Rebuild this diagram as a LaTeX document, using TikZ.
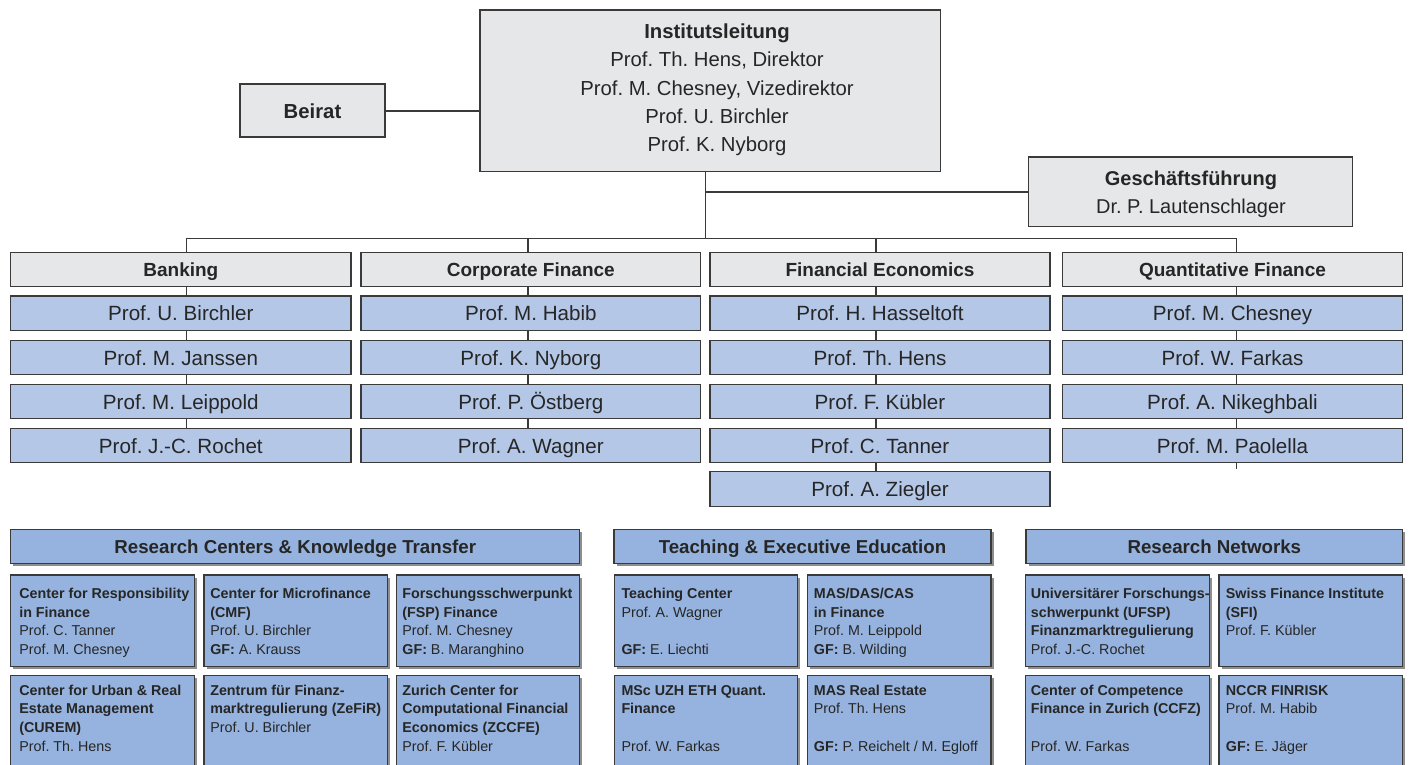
\documentclass[tikz,border=0pt]{standalone}
\usepackage{fontspec}
\setmainfont{Liberation Sans}
\frenchspacing
\usetikzlibrary{shadows,backgrounds}
\definecolor{greyC}{HTML}{E6E7E8}
\definecolor{profC}{HTML}{B4C7E7}
\definecolor{secC}{HTML}{95B3DE}
\definecolor{lineC}{HTML}{3A3A3A}
\definecolor{txtC}{HTML}{262626}
\definecolor{shadC}{HTML}{8E8E8E}
\begin{document}
\begin{tikzpicture}[x=1pt,y=-1pt,
 conn/.style={draw=lineC, line width=1.3pt},
 connthick/.style={draw=lineC, line width=2pt},
 boxbase/.style={rectangle, draw=lineC, line width=1.2pt, inner sep=0pt, text=txtC},
 greybox/.style={boxbase, fill=greyC},
 colhead/.style={greybox, minimum height=34.4pt, font=\bfseries\fontsize{19}{23}\selectfont, text height=13pt, text depth=0pt},
 profbox/.style={boxbase, fill=profC, minimum height=34.6pt, font=\fontsize{20.6}{24}\selectfont, text height=15pt, text depth=0pt},
 shad/.style={drop shadow={shadow xshift=2.5pt, shadow yshift=-2.5pt, fill=shadC, opacity=1}},
 sechead/.style={boxbase, fill=secC, shad, minimum height=34pt, font=\bfseries\fontsize{18.7}{22}\selectfont, text height=13.5pt, text depth=0pt},
 subbox/.style={boxbase, fill=secC, shad, minimum width=183.7pt},
 row1/.style={subbox, minimum height=91.7pt},
 row2/.style={subbox, minimum height=124.3pt},
 subtext/.style={anchor=north west, align=left, inner sep=0pt, text=txtC, font=\fontsize{14.3}{18.6}\selectfont},
 toptext/.style={anchor=north, align=center, inner sep=0pt, text=txtC, font=\fontsize{20.3}{28.35}\selectfont},
]
\useasboundingbox (0,0) rectangle (1409,764);
\clip (0,0) rectangle (1409,764);

% ---- top level
\node[greybox, minimum width=460.5pt, minimum height=161.7pt] (inst) at (710.25,90.85) {};
\node[toptext] (instT) at (717,23.3) {\rule{0pt}{15pt}\textbf{Institutsleitung}\\Prof. Th. Hens, Direktor\\Prof. M. Chesney, Vizedirektor\\Prof. U. Birchler\\Prof. K. Nyborg};
\node[greybox, minimum width=145pt, minimum height=53pt, font=\bfseries\fontsize{20.3}{24}\selectfont, text height=15pt, text depth=0pt] (beirat) at (312.5,110.5) {Beirat};
\node[greybox, minimum width=323.6pt, minimum height=69.3pt] (gf) at (1190.5,191.65) {};
\node[toptext, font=\fontsize{20}{28}\selectfont] (gfT) at (1191,170) {\rule{0pt}{15pt}\textbf{Geschäftsführung}\\Dr. P. Lautenschlager};

% ---- columns
\node[colhead, minimum width=340.3pt] (hA) at (180.85,269.5) {Banking};
\node[profbox, minimum width=340.3pt] (a1) at (180.85,313.35) {Prof. U. Birchler};
\node[profbox, minimum width=340.3pt] (a2) at (180.85,357.5) {Prof. M. Janssen};
\node[profbox, minimum width=340.3pt] (a3) at (180.85,401.5) {Prof. M. Leippold};
\node[profbox, minimum width=340.3pt] (a4) at (180.85,445.5) {Prof. J.-C. Rochet};

\node[colhead, minimum width=339.7pt] (hB) at (530.85,269.5) {Corporate Finance};
\node[profbox, minimum width=339.7pt] (b1) at (530.85,313.35) {Prof. M. Habib};
\node[profbox, minimum width=339.7pt] (b2) at (530.85,357.5) {Prof. K. Nyborg};
\node[profbox, minimum width=339.7pt] (b3) at (530.85,401.5) {Prof. P. Östberg};
\node[profbox, minimum width=339.7pt] (b4) at (530.85,445.5) {Prof. A. Wagner};

\node[colhead, minimum width=340pt] (hC) at (880,269.5) {Financial Economics};
\node[profbox, minimum width=340pt] (c1) at (880,313.35) {Prof. H. Hasseltoft};
\node[profbox, minimum width=340pt] (c2) at (880,357.5) {Prof. Th. Hens};
\node[profbox, minimum width=340pt] (c3) at (880,401.5) {Prof. F. Kübler};
\node[profbox, minimum width=340pt] (c4) at (880,445.5) {Prof. C. Tanner};
\node[profbox, minimum width=340pt] (c5) at (880,488.85) {Prof. A. Ziegler};

\node[colhead, minimum width=340.4pt] (hD) at (1232.5,269.5) {Quantitative Finance};
\node[profbox, minimum width=340.4pt] (d1) at (1232.5,313.35) {Prof. M. Chesney};
\node[profbox, minimum width=340.4pt] (d2) at (1232.5,357.5) {Prof. W. Farkas};
\node[profbox, minimum width=340.4pt] (d3) at (1232.5,401.5) {Prof. A. Nikeghbali};
\node[profbox, minimum width=340.4pt] (d4) at (1232.5,445.5) {Prof. M. Paolella};

% ---- connectors (behind boxes)
\coordinate (trunk) at (705.4,238.3);
\coordinate (dA) at (186.7,238.3);
\coordinate (dB) at (528.1,238.3);
\coordinate (dC) at (876,238.3);
\coordinate (dD) at (1236.7,238.3);
\coordinate (stubD) at (1236.7,469.3);
\begin{pgfonlayer}{background}
\draw[connthick] (beirat.east) -- (beirat.east -| inst.west);
\draw[conn] (trunk |- inst.south) -- (trunk);
\draw[connthick] (trunk |- gf.west) -- (gf.west);
\draw[conn] (dA) -- (dD);
\draw[conn] (dA) -- (dA |- a4.south);
\draw[conn] (dB) -- (dB |- b4.south);
\draw[conn] (dC) -- (dC |- c5.south);
\draw[conn] (dD) -- (stubD);
\end{pgfonlayer}

% ---- section headers
\node[sechead, minimum width=569.1pt] (s1) at (295.25,546.3) {Research Centers \& Knowledge Transfer};
\node[sechead, minimum width=377pt] (s2) at (802.5,546.3) {Teaching \& Executive Education};
\node[sechead, minimum width=376.7pt] (s3) at (1214.35,546.3) {Research Networks};

% ---- sub boxes row 1
\node[row1] (rc1) at (102.55,620.85) {};
\node[row1] (rc2) at (295.85,620.85) {};
\node[row1] (rc3) at (487.95,620.85) {};
\node[row1] (te1) at (706,620.85) {};
\node[row1] (te2) at (899.15,620.85) {};
\node[row1] (rn1) at (1117.65,620.85) {};
\node[row1] (rn2) at (1310.85,620.85) {};
% ---- sub boxes row 2
\node[row2] (rc4) at (102.55,737.85) {};
\node[row2] (rc5) at (295.85,737.85) {};
\node[row2] (rc6) at (487.95,737.85) {};
\node[row2] (te3) at (706,737.85) {};
\node[row2] (te4) at (899.15,737.85) {};
\node[row2] (rn3) at (1117.65,737.85) {};
\node[row2] (rn4) at (1310.85,737.85) {};

% ---- texts row 1
\node[subtext] (rc1T) at (19.1,587.8) {\rule{0pt}{10.5pt}\textbf{Center for Responsibility}\\\textbf{in Finance}\\Prof. C. Tanner\\Prof. M. Chesney};
\node[subtext] (rc2T) at (210.1,587.8) {\rule{0pt}{10.5pt}\textbf{Center for Microfinance}\\\textbf{(CMF)}\\Prof. U. Birchler\\\textbf{GF:} A. Krauss};
\node[subtext] (rc3T) at (402.2,587.8) {\rule{0pt}{10.5pt}\textbf{Forschungsschwerpunkt}\\\textbf{(FSP) Finance}\\Prof. M. Chesney\\\textbf{GF:} B. Maranghino};
\node[subtext] (te1T) at (621.3,587.8) {\rule{0pt}{10.5pt}\textbf{Teaching Center}\\Prof. A. Wagner\\[18.6pt]\textbf{GF:} E. Liechti};
\node[subtext] (te2T) at (813.7,587.8) {\rule{0pt}{10.5pt}\textbf{MAS/DAS/CAS}\\\textbf{in Finance}\\Prof. M. Leippold\\\textbf{GF:} B. Wilding};
\node[subtext] (rn1T) at (1030.7,587.8) {\rule{0pt}{10.5pt}\textbf{Universitärer Forschungs-}\\\textbf{schwerpunkt (UFSP)}\\\textbf{Finanzmarktregulierung}\\Prof. J.-C. Rochet};
\node[subtext] (rn2T) at (1225.7,587.8) {\rule{0pt}{10.5pt}\textbf{Swiss Finance Institute}\\\textbf{(SFI)}\\Prof. F. Kübler};
% ---- texts row 2
\node[subtext] (rc4T) at (19.1,684.5) {\rule{0pt}{10.5pt}\textbf{Center for Urban \& Real}\\\textbf{Estate Management}\\\textbf{(CUREM)}\\Prof. Th. Hens};
\node[subtext] (rc5T) at (210.1,684.5) {\rule{0pt}{10.5pt}\textbf{Zentrum für Finanz-}\\\textbf{marktregulierung (ZeFiR)}\\Prof. U. Birchler};
\node[subtext] (rc6T) at (402.2,684.5) {\rule{0pt}{10.5pt}\textbf{Zurich Center for}\\\textbf{Computational Financial}\\\textbf{Economics (ZCCFE)}\\Prof. F. Kübler};
\node[subtext] (te3T) at (621.3,684.5) {\rule{0pt}{10.5pt}\textbf{MSc UZH ETH Quant.}\\\textbf{Finance}\\[18.6pt]Prof. W. Farkas};
\node[subtext] (te4T) at (813.7,684.5) {\rule{0pt}{10.5pt}\textbf{MAS Real Estate}\\Prof. Th. Hens\\[18.6pt]\textbf{GF:} P. Reichelt / M. Egloff};
\node[subtext] (rn3T) at (1030.7,684.5) {\rule{0pt}{10.5pt}\textbf{Center of Competence}\\\textbf{Finance in Zurich (CCFZ)}\\[18.6pt]Prof. W. Farkas};
\node[subtext] (rn4T) at (1225.7,684.5) {\rule{0pt}{10.5pt}\textbf{NCCR FINRISK}\\Prof. M. Habib\\[18.6pt]\textbf{GF:} E. Jäger};
\end{tikzpicture}
\end{document}
